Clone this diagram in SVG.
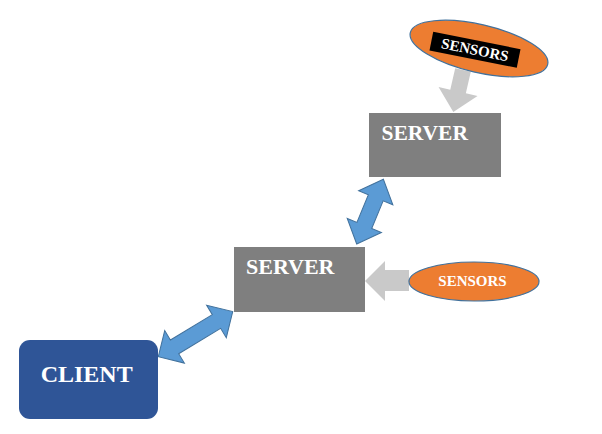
<svg xmlns="http://www.w3.org/2000/svg" width="602" height="434" viewBox="0 0 602 434">
<style>
.server{fill:#7F7F7F}
.stxt{font-family:"Liberation Serif","Times New Roman",serif;font-weight:bold;fill:#FFFFFF}
.sensor{fill:#ED7D31;stroke:#41719C;stroke-width:1.2}
.garrow{fill:#C9C9C9}
.barrow{fill:#5B9BD5;stroke:#41719C;stroke-width:1}
</style>
<rect width="602" height="434" fill="#FFFFFF"/>
<g id="connectors">
<path class="garrow" d="M-8,0 L8,0 L8,22 L20,22 L0,43 L-20,22 L-8,22 Z" transform="translate(463,70) rotate(13)"/>
<path class="garrow" d="M409,270 L385,270 L385,261 L365,281 L385,301 L385,291 L409,291 Z"/>
<path class="barrow" d="M0,0 L20,-18.5 L20,-8 L50,-8 L50,-18.5 L70,0 L50,18.5 L50,8 L20,8 L20,18.5 Z" transform="translate(356.7,244) rotate(-67.6)"/>
<path class="barrow" d="M0,0 L19,-19 L19,-8 L68,-8 L68,-19 L87,0 L68,19 L68,8 L19,8 L19,19 Z" transform="translate(158.3,356.7) rotate(-31.2)"/>
</g>
<g id="server-top">
<rect class="server" x="369" y="113" width="132" height="64"/>
<text class="stxt" x="381.5" y="139.5" font-size="21.5">SERVER</text>
</g>
<g id="server-bottom">
<rect class="server" x="234" y="247" width="131" height="65"/>
<text class="stxt" x="246" y="273.5" font-size="22">SERVER</text>
</g>
<g id="sensors-top">
<ellipse class="sensor" cx="479" cy="48.5" rx="70.5" ry="24" transform="rotate(13 479 48.5)"/>
<rect x="-44.5" y="-9.5" width="89" height="19" fill="#000000" transform="translate(475,49.8) rotate(11.3)"/>
<text class="stxt" x="0" y="5" font-size="15" text-anchor="middle" transform="translate(475,49.8) rotate(11.3)">SENSORS</text>
</g>
<g id="sensors-right">
<ellipse class="sensor" cx="474" cy="281.5" rx="65" ry="19.5"/>
<text class="stxt" x="472.5" y="285.5" font-size="15" text-anchor="middle">SENSORS</text>
</g>
<g id="client">
<rect x="19" y="340" width="139" height="79" rx="11" fill="#2F5597"/>
<text class="stxt" x="86.7" y="382" font-size="24" text-anchor="middle">CLIENT</text>
</g>
</svg>
